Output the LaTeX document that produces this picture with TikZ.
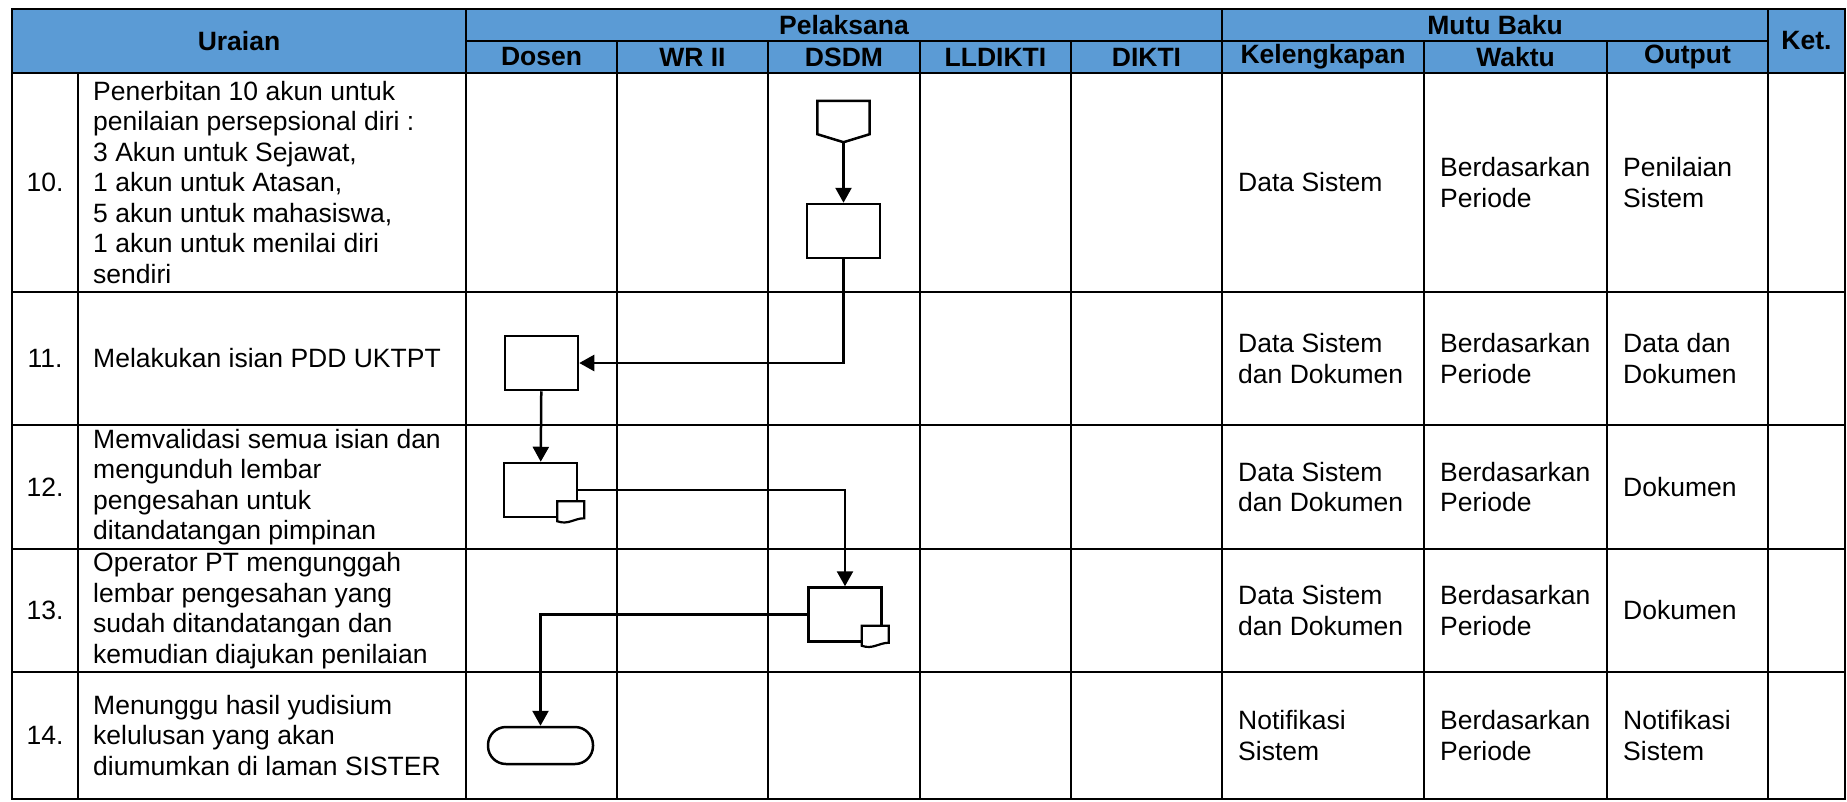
\documentclass[tikz,border=0pt]{standalone}
\usepackage{fontspec}
\setmainfont{Liberation Sans}
\usetikzlibrary{arrows.meta}
\definecolor{hdrblue}{RGB}{91,155,213}
\tikzset{
  tabline/.style={line width=2.8pt},
  hdr/.style={font=\bfseries\fontsize{26.5}{30.5}\selectfont},
  cell/.style={anchor=west, align=left, inner sep=0pt, font=\fontsize{26.5}{30.5}\selectfont},
  proc/.style={draw, line width=2.5pt, fill=white, minimum width=73pt, minimum height=54pt, inner sep=0pt},
  term/.style={draw, line width=2.5pt, fill=white, rounded corners=18pt, minimum width=105pt, minimum height=37pt, inner sep=0pt},
  flow/.style={line width=2.5pt, -{Triangle[length=15pt,width=16pt]}},
}
% lembar kecil di pojok kanan bawah simbol dokumen
\newcommand{\cornerdoc}[1]{%
  \draw[line width=2.2pt, fill=white]
    ([shift={(-21pt,17pt)}]#1.south east) -- ([shift={(6pt,17pt)}]#1.south east)
    -- ([shift={(6pt,0pt)}]#1.south east)
    .. controls ([shift={(-4pt,0pt)}]#1.south east) and ([shift={(-10pt,-7pt)}]#1.south east) .. ([shift={(-21pt,-3pt)}]#1.south east)
    -- cycle;}
\begin{document}
\begin{tikzpicture}[x=1pt,y=-1pt]
  \useasboundingbox (0,0) rectangle (1847,801);
  % tabel
  \fill[hdrblue] (12,9) rectangle (1845,73);
  \draw[tabline] (12,9) rectangle (1845,799);
  \draw[tabline] (466,41) -- (1768,41);
  \foreach \y in {73,292,425,549,672} \draw[tabline] (12,\y) -- (1845,\y);
  \foreach \x in {466,1222,1768} \draw[tabline] (\x,9) -- (\x,799);
  \foreach \x in {617,768,920,1071,1424,1607} \draw[tabline] (\x,41) -- (\x,799);
  \draw[tabline] (78,73) -- (78,799);

  % kepala kolom
  \node[hdr] (uraian) at (239,41) {Uraian};
  \node[hdr] (pelaksana) at (844,25) {Pelaksana};
  \node[hdr] (mutu) at (1495,25) {Mutu Baku};
  \node[hdr] (ket) at (1806.5,41) {Ket.};
  \foreach \x/\name/\lbl in {541.5/dosen/Dosen, 692.5/wr/WR II, 844/dsdm/DSDM, 995.5/lldikti/LLDIKTI,
      1146.5/dikti/DIKTI, 1323/lengkap/Kelengkapan, 1515.5/waktu/Waktu, 1687.5/output/Output}
    \node[hdr] (\name) at (\x,57) {\lbl};

  % nomor
  \foreach \y/\n in {182.5/10, 358.5/11, 487/12, 610.5/13, 735.5/14}
    \node[cell, anchor=center] (no\n) at (45,\y) {\n.};

  % uraian
  \node[cell] (ur10) at (93,182.5) {Penerbitan 10 akun untuk\\penilaian persepsional diri :\\3 Akun untuk Sejawat,\\1 akun untuk Atasan,\\5 akun untuk mahasiswa,\\1 akun untuk menilai diri\\sendiri};
  \node[cell] (ur11) at (93,358.5) {Melakukan isian PDD UKTPT};
  \node[cell] (ur12) at (93,487) {Memvalidasi semua isian dan\\mengunduh lembar\\pengesahan untuk\\ditandatangan pimpinan};
  \node[cell] (ur13) at (93,610.5) {Operator PT mengunggah\\lembar pengesahan yang\\sudah ditandatangan dan\\kemudian diajukan penilaian};
  \node[cell] (ur14) at (93,735.5) {Menunggu hasil yudisium\\kelulusan yang akan\\diumumkan di laman SISTER};

  % mutu baku
  \node[cell] (kl10) at (1238,182.5) {Data Sistem};
  \node[cell] (kl11) at (1238,358.5) {Data Sistem\\dan Dokumen};
  \node[cell] (kl12) at (1238,487) {Data Sistem\\dan Dokumen};
  \node[cell] (kl13) at (1238,610.5) {Data Sistem\\dan Dokumen};
  \node[cell] (kl14) at (1238,735.5) {Notifikasi\\Sistem};
  \foreach \y/\n in {182.5/10, 358.5/11, 487/12, 610.5/13, 735.5/14}
    \node[cell] (wk\n) at (1440,\y) {Berdasarkan\\Periode};
  \node[cell] (op10) at (1623,182.5) {Penilaian\\Sistem};
  \node[cell] (op11) at (1623,358.5) {Data dan\\Dokumen};
  \node[cell] (op12) at (1623,487) {Dokumen};
  \node[cell] (op13) at (1623,610.5) {Dokumen};
  \node[cell] (op14) at (1623,735.5) {Notifikasi\\Sistem};

  % simbol alur
  \node[inner sep=0pt, minimum width=52pt, minimum height=33pt] (off10) at (843.5,117.5) {};
  \draw[line width=2.5pt, fill=white] (off10.north west) -- (off10.north east) -- (off10.south east)
    -- ([yshift=-8pt]off10.south) -- (off10.south west) -- cycle;
  \coordinate (off10tip) at ([yshift=-8pt]off10.south);
  \node[proc] (p10) at (843.5,231) {};
  \node[proc] (p11) at (541.5,363) {};
  \node[proc] (d12) at (540.5,490) {};
  \cornerdoc{d12}
  \node[proc] (d13) at (845,614.5) {};
  \cornerdoc{d13}
  \node[term] (t14) at (540.5,745.5) {};

  % penghubung
  \draw[flow] (off10tip) -- (p10);
  \draw[flow] (p10.south) |- (p11.east);
  \draw[flow] (p11) -- (d12);
  \draw[flow] (d12.east) -| (d13.north);
  \draw[flow] (d13.west) -| (t14.north);
\end{tikzpicture}
\end{document}
